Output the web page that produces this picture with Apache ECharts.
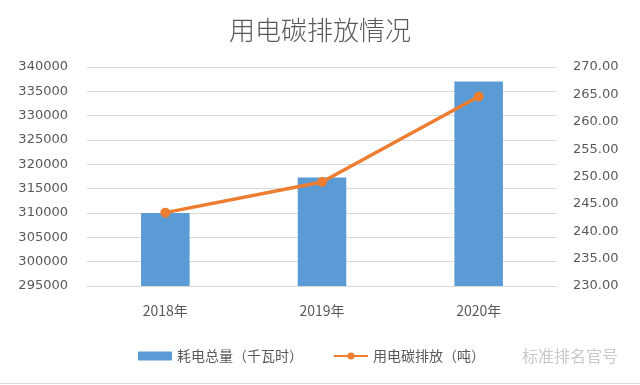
<!DOCTYPE html>
<html>
<head>
<meta charset="utf-8">
<script src="https://cdn.jsdelivr.net/npm/echarts@6/dist/echarts.min.js"></script>
<style>html,body{margin:0;padding:0;background:#fff}#c{width:640px;height:385px}</style>
</head>
<body>
<div id="c"></div>
<script>
const categories = ['2018年', '2019年', '2020年'];
const powerValues = [310000, 317300, 337000];
const carbonValues = [243.4, 249.0, 264.6];
const titleText = '用电碳排放情况';
const barName = '耗电总量（千瓦时）';
const lineName = '用电碳排放（吨）';
const watermark = '标准排名官号';

const chart = echarts.init(document.getElementById('c'), null, {renderer: 'canvas'});
const labelFont = 'DejaVu Sans, Verdana, sans-serif';
const cjkFont = '"Noto Sans CJK SC", sans-serif';
chart.setOption({
  animation: false,
  backgroundColor: '#ffffff',
  title: {
    text: titleText, left: 'center', top: 12,
    textStyle: {fontFamily: cjkFont, fontSize: 26, fontWeight: 300, color: '#595959'}
  },
  legend: {
    bottom: 17, left: 133, itemGap: 30, itemWidth: 34, itemHeight: 9,
    textStyle: {fontFamily: cjkFont, fontSize: 14, color: '#595959'},
    data: [
      {name: barName, icon: 'rect'},
      {name: lineName}
    ]
  },
  grid: {left: 87, right: 83, top: 67, bottom: 99},
  xAxis: {
    type: 'category', data: categories,
    axisLine: {lineStyle: {color: '#d9d9d9'}},
    axisTick: {show: false},
    axisLabel: {fontFamily: cjkFont, fontSize: 14, color: '#595959', margin: 18}
  },
  yAxis: [
    {
      type: 'value', min: 295000, max: 340000, interval: 5000,
      axisLine: {show: false}, axisTick: {show: false},
      splitLine: {lineStyle: {color: '#d9d9d9'}},
      axisLabel: {fontFamily: labelFont, fontSize: 13, color: '#595959', margin: 19,
        formatter: v => String(v)}
    },
    {
      type: 'value', min: 230, max: 270, interval: 5,
      axisLine: {show: false}, axisTick: {show: false},
      splitLine: {show: false},
      axisLabel: {fontFamily: labelFont, fontSize: 13, color: '#595959', margin: 16,
        formatter: v => v.toFixed(2)}
    }
  ],
  series: [
    {
      name: barName, type: 'bar', data: powerValues, yAxisIndex: 0,
      barWidth: '31%', itemStyle: {color: '#5b9bd5'}
    },
    {
      name: lineName, type: 'line', data: carbonValues, yAxisIndex: 1,
      symbol: 'circle', symbolSize: 10,
      lineStyle: {color: '#ed7d31', width: 3.5},
      itemStyle: {color: '#ed7d31'}
    }
  ],
  graphic: [
    {type: 'text', left: 522, top: 348,
      style: {text: watermark, fontFamily: cjkFont, fontSize: 16, fill: '#c8c8c8'}},
    {type: 'line', shape: {x1: 0, y1: 383.5, x2: 640, y2: 383.5},
      style: {stroke: '#d9d9d9', lineWidth: 1}}
  ]
});
</script>
</body>
</html>
